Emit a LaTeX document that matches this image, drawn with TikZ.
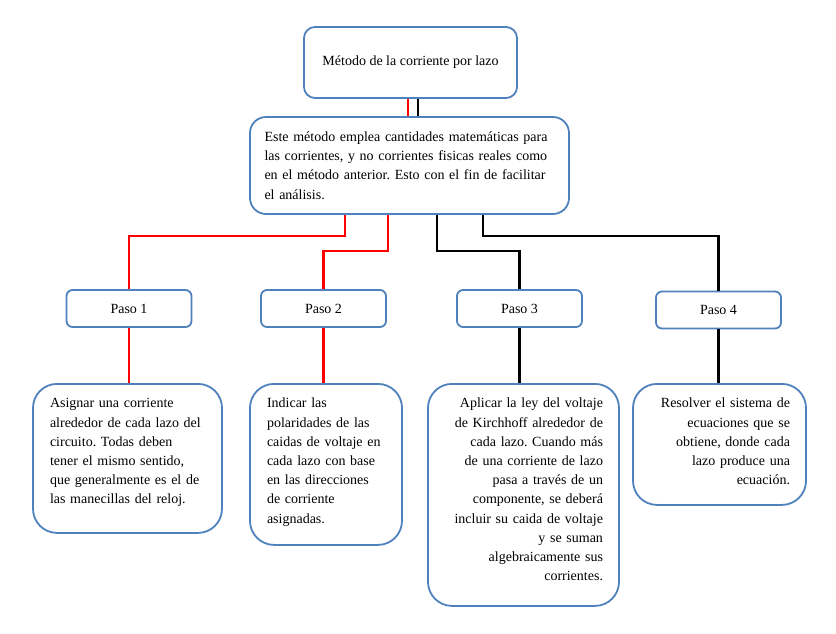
\documentclass[tikz,border=0pt]{standalone}
\usepackage{fontspec}
\setmainfont{Liberation Serif}
\definecolor{boxblue}{RGB}{79,129,189}
\hyphenpenalty=10000
\frenchspacing
\begin{document}
\begin{tikzpicture}[x=1pt,y=-1pt,
    box/.style={draw=boxblue,line width=1.8pt,fill=white,font=\fontsize{14}{19.2}\selectfont},
    pasobox/.style={box,rounded corners=6pt,minimum width=125pt,minimum height=37pt},
    stepbox/.style={box,rounded corners=24pt,anchor=north,inner ysep=10pt,text height=14pt},
    redl/.style={red,line width=2.8pt},
    blackl/.style={black,line width=2.8pt}]
\useasboundingbox (0,0) rectangle (836,633);
\node[box,rounded corners=11pt,minimum width=213pt,minimum height=71pt] (top) at (410.5,62.5) {M\'etodo de la corriente por lazo};
\node[box,rounded corners=16pt,text width=290pt,inner xsep=14.5pt,minimum height=97pt,align=left] (main) at (409.5,165.5)
    {Este m\'etodo emplea cantidades matem\'aticas para\\las corrientes, y no corrientes fisicas reales como\\en el m\'etodo anterior. Esto con el fin de facilitar\\el an\'alisis.};
    \node[pasobox] (p1) at (129,308.5) {Paso 1};
    \node[pasobox] (p2) at (323.5,308.5) {Paso 2};
    \node[pasobox] (p3) at (519.5,308.5) {Paso 3};
    \node[pasobox] (p4) at (718.5,310) {Paso 4};
\node[stepbox,text width=155pt,inner xsep=17pt,text depth=115pt,align=left] (s1) at (127.5,383)
    {Asignar una corriente\\alrededor de cada lazo del\\circuito. Todas deben\\tener el mismo sentido,\\que generalmente es el de\\las manecillas del reloj.};
\node[stepbox,text width=118pt,inner xsep=17pt,text depth=127pt,align=left] (s2) at (326,383)
    {Indicar las\\polaridades de las\\caidas de voltaje en\\cada lazo con base\\en las direcciones\\de corriente\\asignadas.};
\node[stepbox,text width=159pt,inner xsep=16pt,text depth=188pt,align=right] (s3) at (523.5,383)
    {Aplicar la ley del voltaje\\de Kirchhoff alrededor de\\cada lazo. Cuando m\'as\\de una corriente de lazo\\pasa a trav\'es de un\\componente, se deber\'a\\incluir su caida de voltaje\\y se suman\\algebraicamente sus\\corrientes.};
\node[stepbox,text width=141pt,inner xsep=16pt,text depth=87pt,align=right] (s4) at (719.5,383)
    {Resolver el sistema de\\ecuaciones que se\\obtiene, donde cada\\lazo produce una\\ecuaci\'on.};
    % top box to main box
    \draw[redl] ([xshift=-2.5pt]top.south) -- ([xshift=-2.5pt]top.south |- main.north);
    \draw[blackl] ([xshift=7.5pt]top.south) -- ([xshift=7.5pt]top.south |- main.north);
    % main box to the steps
    \coordinate (r1) at (345,236);
    \coordinate (r2) at (388,251);
    \coordinate (b3) at (437,251);
    \coordinate (b4) at (483,236);
    \draw[redl] (r1 |- main.south) -- (r1) -| (p1.north);
    \draw[redl] (r2 |- main.south) -- (r2) -| (p2.north);
    \draw[blackl] (b3 |- main.south) -- (b3) -| (p3.north);
    \draw[blackl] (b4 |- main.south) -- (b4) -| (p4.north);
    % steps to their boxes
    \draw[redl] (p1.south) -- (p1.south |- s1.north);
    \draw[redl] (p2.south) -- (p2.south |- s2.north);
    \draw[blackl] (p3.south) -- (p3.south |- s3.north);
    \draw[blackl] (p4.south) -- (p4.south |- s4.north);
\end{tikzpicture}
\end{document}
